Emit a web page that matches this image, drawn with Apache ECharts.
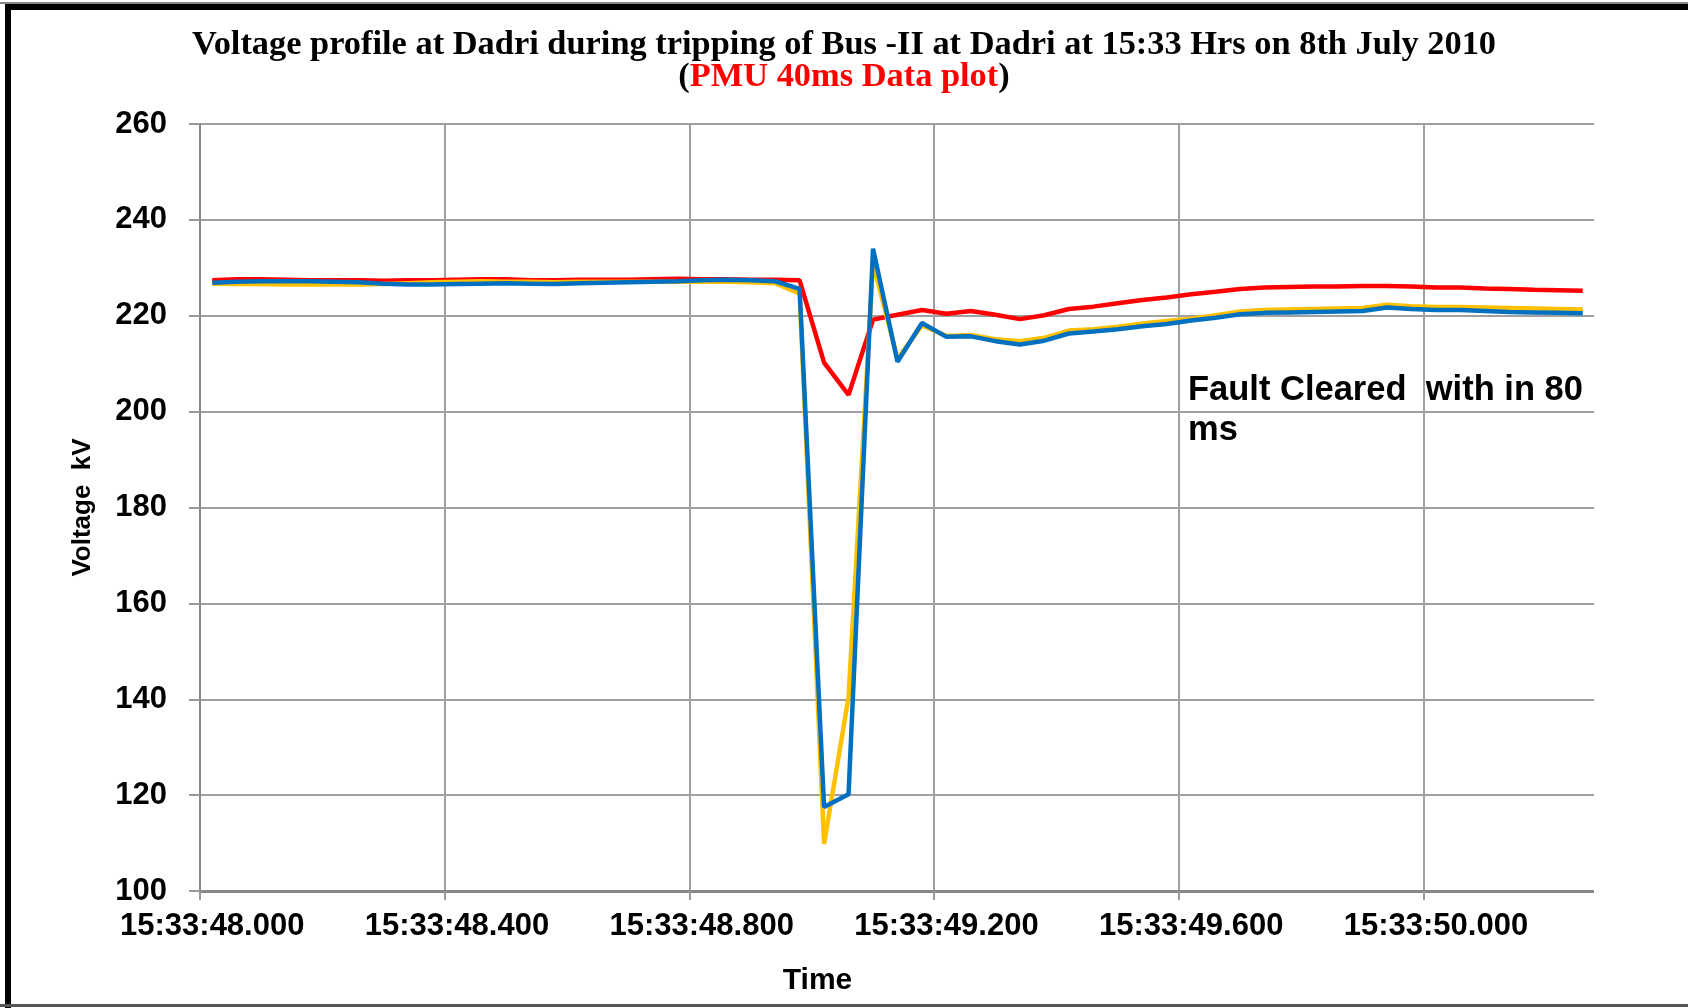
<!DOCTYPE html>
<html>
<head>
<meta charset="utf-8">
<script src="https://cdn.jsdelivr.net/npm/echarts@6/dist/echarts.min.js"></script>
<style>
  html, body { margin: 0; padding: 0; background: #fff; }
  #chart { width: 1688px; height: 1008px; }
</style>
</head>
<body>
<div id="chart"></div>
<script>
// time stamps, one sample every 40 ms starting at 15:33:48.000
const startSec = 48.0
const stepMs = 40
const sampleCount = 57
const times = []
for (let i = 0; i < sampleCount; i++) {
  const ms = Math.round(startSec * 1000 + i * stepMs)
  const s = Math.floor(ms / 1000)
  const frac = String(ms % 1000).padStart(3, '0')
  times.push('15:33:' + s + '.' + frac)
}

const yTicks = [100, 120, 140, 160, 180, 200, 220, 240, 260]

// voltage, kV
const redPhase = [
  227.4, 227.6, 227.6, 227.5, 227.4, 227.4, 227.4, 227.3, 227.4, 227.4,
  227.5, 227.6, 227.6, 227.4, 227.4, 227.5, 227.5, 227.5, 227.6, 227.7,
  227.6, 227.6, 227.5, 227.5, 227.4, 210.2, 203.5, 219.2, 220.2, 221.2,
  220.4, 221.0, 220.2, 219.3, 220.1, 221.4, 221.9, 222.6, 223.3, 223.8,
  224.5, 225.0, 225.6, 225.9, 226.0, 226.1, 226.1, 226.2, 226.2, 226.1,
  225.9, 225.9, 225.7, 225.6, 225.4, 225.3, 225.2
]
const yellowPhase = [
  226.7, 226.6, 226.6, 226.5, 226.5, 226.5, 226.5, 226.6, 226.8, 227.0,
  227.1, 227.2, 227.1, 227.1, 227.0, 227.1, 227.1, 227.1, 227.1, 227.1,
  227.1, 227.1, 227.0, 226.8, 224.6, 109.8, 140.5, 231.0, 211.0, 218.0,
  215.8, 216.0, 215.1, 214.7, 215.4, 216.9, 217.2, 217.7, 218.4, 218.9,
  219.4, 220.1, 220.9, 221.2, 221.3, 221.4, 221.5, 221.6, 222.3, 222.0,
  221.8, 221.8, 221.7, 221.6, 221.5, 221.4, 221.3
]
const bluePhase = [
  226.9, 227.1, 227.2, 227.2, 227.2, 227.1, 227.0, 226.7, 226.5, 226.5,
  226.6, 226.7, 226.8, 226.7, 226.6, 226.8, 226.9, 227.0, 227.1, 227.2,
  227.4, 227.5, 227.4, 227.2, 225.6, 117.5, 120.2, 234.0, 210.4, 218.5,
  215.6, 215.7, 214.7, 214.0, 214.8, 216.3, 216.7, 217.2, 217.8, 218.3,
  219.0, 219.6, 220.3, 220.6, 220.7, 220.8, 220.9, 221.0, 221.7, 221.4,
  221.2, 221.2, 221.0, 220.8, 220.7, 220.6, 220.5
]

const myChart = echarts.init(document.getElementById('chart'))

const labelFont = 'Liberation Sans, Arial, sans-serif'
const gridGray = '#a0a0a0'

let option = {
  animation: false,
  backgroundColor: '#fff',
  title: {
    left: 'center',
    top: 24,
    text: '{a|Voltage profile at Dadri during tripping of Bus -II at Dadri at 15:33 Hrs on 8th July 2010}\n{a|(}{r|PMU 40ms Data plot}{a|)}',
    textStyle: {
      rich: {
        a: { fontFamily: 'Liberation Serif, Times New Roman, serif', fontWeight: 'bold', fontSize: 34.4, color: '#000', lineHeight: 32 },
        r: { fontFamily: 'Liberation Serif, Times New Roman, serif', fontWeight: 'bold', fontSize: 34.4, color: '#ff0000', lineHeight: 32 }
      }
    }
  },
  grid: { left: 200, right: 93, top: 124, bottom: 117 },
  xAxis: {
    type: 'category',
    data: times,
    boundaryGap: true,
    name: 'Time',
    nameLocation: 'middle',
    nameGap: 75,
    nameTextStyle: { fontFamily: labelFont, fontWeight: 'bold', fontSize: 30, color: '#000', padding: [0, 160, 0, 0] },
    axisLine: { lineStyle: { color: '#888', width: 3 } },
    axisTick: { show: true, interval: 9, length: 9, lineStyle: { color: '#999', width: 2 } },
    axisLabel: { interval: 9, margin: 20, fontFamily: labelFont, fontWeight: 'bold', fontSize: 31, color: '#000' },
    splitLine: { show: true, interval: 9, lineStyle: { color: gridGray, width: 2 } }
  },
  yAxis: {
    type: 'value',
    min: yTicks[0],
    max: yTicks[yTicks.length - 1],
    interval: 20,
    name: 'Voltage  kV',
    nameLocation: 'middle',
    nameGap: 104,
    nameRotate: 90,
    nameTextStyle: { fontFamily: labelFont, fontWeight: 'bold', fontSize: 26, color: '#000' },
    axisLine: { show: true, lineStyle: { color: '#888', width: 2 } },
    axisTick: { show: true, length: 11, lineStyle: { color: '#999', width: 2 } },
    axisLabel: { margin: 33, fontFamily: labelFont, fontWeight: 'bold', fontSize: 31, color: '#000' },
    splitLine: { show: true, lineStyle: { color: gridGray, width: 2 } }
  },
  series: [
    {
      name: 'R',
      type: 'line',
      data: redPhase,
      showSymbol: false,
      color: '#ff0000',
      lineStyle: { width: 4.5 }
    },
    {
      name: 'Y',
      type: 'line',
      data: yellowPhase,
      showSymbol: false,
      color: '#ffc000',
      lineStyle: { width: 4.5 }
    },
    {
      name: 'B',
      type: 'line',
      data: bluePhase,
      showSymbol: false,
      color: '#0070c0',
      lineStyle: { width: 4.5 }
    }
  ],
  graphic: [
    // hide the closing grid line ECharts draws at the right end of the band axis
    { type: 'rect', shape: { x: 1594, y: 118, width: 4, height: 790 }, style: { fill: '#fff' }, z: 100 },
    // frame round the picture
    { type: 'rect', shape: { x: 0, y: 2, width: 1688, height: 2 }, style: { fill: '#888' } },
    { type: 'rect', shape: { x: 5, y: 4, width: 1683, height: 6 }, style: { fill: '#000' } },
    { type: 'rect', shape: { x: 5, y: 4, width: 6, height: 1004 }, style: { fill: '#000' } },
    { type: 'rect', shape: { x: 0, y: 1004, width: 1688, height: 3 }, style: { fill: '#555' } },
    {
      type: 'text',
      left: 1188,
      top: 370,
      style: {
        text: 'Fault Cleared  with in 80\nms',
        font: 'bold 34.5px Liberation Sans, Arial, sans-serif',
        lineHeight: 40,
        fill: '#000'
      }
    }
  ]
}

myChart.setOption(option)
</script>
</body>
</html>
